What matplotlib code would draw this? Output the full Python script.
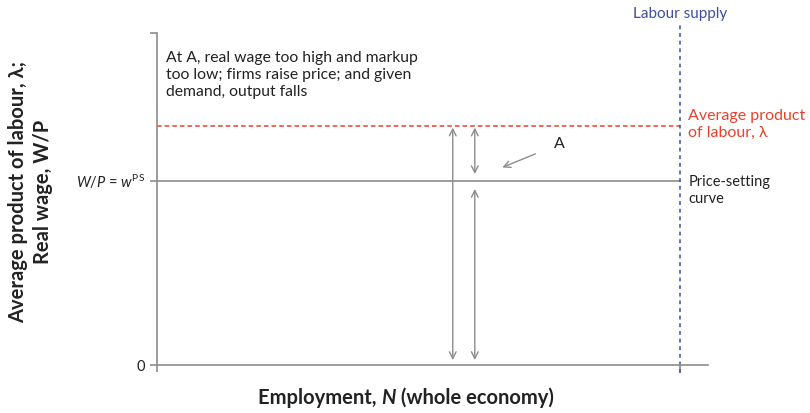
import matplotlib.pyplot as plt

plt.rcParams['font.family'] = ['Lato', 'DejaVu Sans']
plt.rcParams['mathtext.fontset'] = 'custom'
plt.rcParams['mathtext.rm'] = 'Lato'
plt.rcParams['mathtext.it'] = 'Lato:italic'

# chart values (data units: x 0..1 employment, y 0..10)
x_max = 1.0
y_max = 10.0
labour_supply = 0.949
apl = 7.2          # average product of labour, lambda
w_ps = 5.55        # price-setting real wage
arrow_x = [0.537, 0.577]
y_ticks = [0, w_ps]
y_ticklabels = ['0', r'$W/P$ = $w^{\mathrm{PS}}$']

grey = '#8c8c8c'
red = '#e8412c'
blue = '#3f4ea0'
dark = '#222222'

fig = plt.figure(figsize=(8.1, 4.13), dpi=100)
ax = fig.add_axes([0.1938, 0.1162, 0.680, 0.804])
ax.set_xlim(0, x_max)
ax.set_ylim(0, y_max)

for s in ['top', 'right']:
    ax.spines[s].set_visible(False)
for s in ['left', 'bottom']:
    ax.spines[s].set_color(grey)
    ax.spines[s].set_linewidth(1.2)

# curves
ax.plot([0, labour_supply], [apl, apl], color=red, ls=(0, (3, 2)), lw=1.1)
ax.plot([0, labour_supply], [w_ps, w_ps], color=grey, lw=1.2)
ax.plot([labour_supply, labour_supply], [-0.25, y_max * 1.03], color=blue,
        ls=(0, (2.5, 2.5)), lw=1.1, clip_on=False)

# arrows
akw = dict(arrowstyle='<->', color=grey, lw=1.0, mutation_scale=12,
           shrinkA=0, shrinkB=0)
ax.annotate('', xy=(arrow_x[0], 0.15), xytext=(arrow_x[0], apl - 0.05),
            arrowprops=akw)
ax.annotate('', xy=(arrow_x[1], w_ps + 0.2), xytext=(arrow_x[1], apl - 0.05),
            arrowprops=akw)
ax.annotate('', xy=(arrow_x[1], 0.15), xytext=(arrow_x[1], w_ps - 0.25),
            arrowprops=akw)
ax.annotate('A', xy=(0.627, 5.95), xytext=(0.72, 6.65), fontsize=11.5,
            color=dark, va='center',
            arrowprops=dict(arrowstyle='->', color=grey, lw=1.0,
                            mutation_scale=12, shrinkA=12, shrinkB=0))

# ticks
ax.set_xticks([0, labour_supply])
ax.set_xticklabels(['', ''])
ax.set_yticks(y_ticks + [y_max])
ax.set_yticklabels(y_ticklabels + [''], fontsize=10.5)
ax.tick_params(axis='both', color=grey, length=5, width=1.2)
for lbl in ax.get_yticklabels():
    lbl.set_color(dark)

# labels
ax.text(0.016, 9.45, 'At A, real wage too high and markup\ntoo low; firms raise price; and given\ndemand, output falls',
        fontsize=11.3, va='top', ha='left', color=dark, linespacing=1.25)
ax.text(0.965, apl + 0.05, 'Average product\nof labour, λ', color=red, fontsize=11.5,
        va='center', ha='left', linespacing=1.25)
ax.text(0.965, w_ps - 0.3, 'Price-setting\ncurve', color=dark, fontsize=10.5,
        va='center', ha='left', linespacing=1.3)
ax.text(labour_supply, 10.57, 'Labour supply', color=blue, fontsize=11,
        va='center', ha='center', clip_on=False)

# x label in pieces so that N is bold italic
renderer = fig.canvas.get_renderer()
x0 = 258 / 810
base = 0.022
for piece, style in [('Employment, ', 'normal'), ('N', 'italic'),
                     (' (whole economy)', 'normal')]:
    t = fig.text(x0, base, piece, fontsize=14.5, fontweight='bold',
                 fontstyle=style, color=dark, ha='left', va='baseline')
    bb = t.get_window_extent(renderer)
    x0 = bb.x1 / fig.bbox.width

fig.text(0.022, 0.535, 'Average product of labour, λ;', rotation=90, fontsize=14.5,
         fontweight='bold', color=dark, ha='center', va='center')
fig.text(0.053, 0.535, 'Real wage, W/P', rotation=90, fontsize=14.5,
         fontweight='bold', color=dark, ha='center', va='center')

fig.savefig('out.png', dpi=100)
